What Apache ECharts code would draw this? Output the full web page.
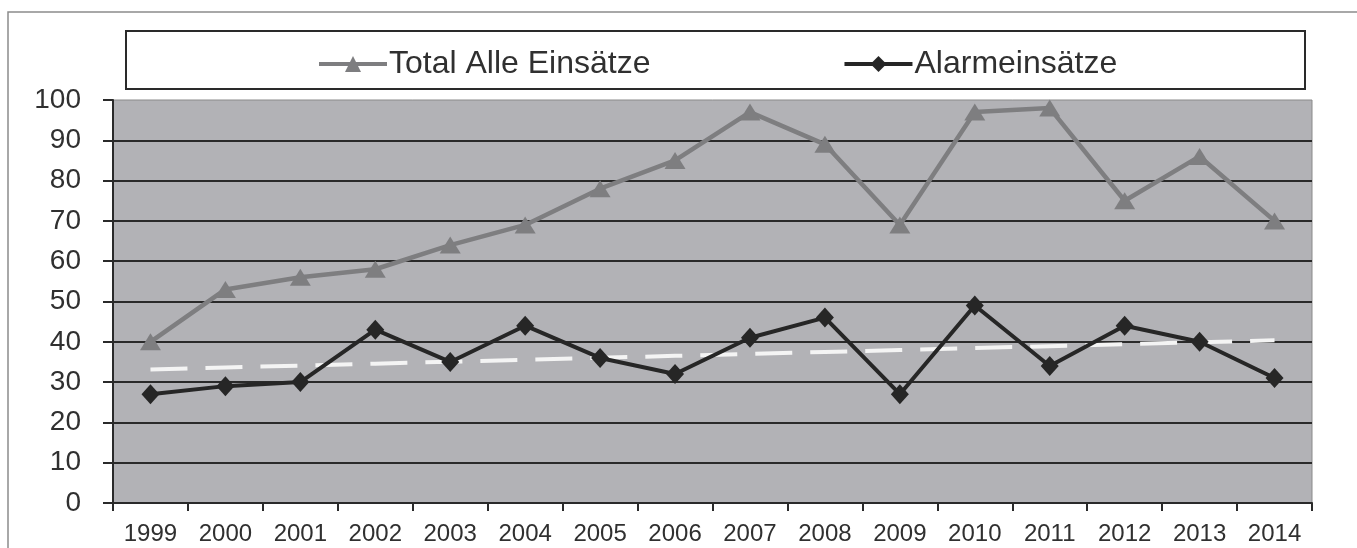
<!DOCTYPE html>
<html>
<head>
<meta charset="utf-8">
<title>Einsätze 1999–2014</title>
<script src="https://cdn.jsdelivr.net/npm/echarts@6/dist/echarts.min.js"></script>
<style>
  html, body { margin: 0; padding: 0; background: #ffffff; }
  #chart { width: 1357px; height: 548px; }
</style>
</head>
<body>
<div id="chart"></div>
<script>
// Years on the category axis
const years = ['1999', '2000', '2001', '2002', '2003', '2004', '2005', '2006',
               '2007', '2008', '2009', '2010', '2011', '2012', '2013', '2014'];

// All call-outs per year
const totalAlle = [40, 53, 56, 58, 64, 69, 78, 85, 97, 89, 69, 97, 98, 75, 86, 70];

// Alarm call-outs per year
const alarmEinsaetze = [27, 29, 30, 43, 35, 44, 36, 32, 41, 46, 27, 49, 34, 44, 40, 31];

// Value axis ticks
const yTicks = [0, 10, 20, 30, 40, 50, 60, 70, 80, 90, 100];

// Linear least-squares trend of the alarm call-outs
function linearTrend(values) {
  const n = values.length;
  let sx = 0, sy = 0, sxy = 0, sxx = 0;
  values.forEach((v, i) => { sx += i; sy += v; sxy += i * v; sxx += i * i; });
  const slope = (n * sxy - sx * sy) / (n * sxx - sx * sx);
  const intercept = (sy - slope * sx) / n;
  return values.map((_, i) => +(intercept + slope * i).toFixed(3));
}
const alarmTrend = linearTrend(alarmEinsaetze);

const FONT = '"Liberation Sans", Arial, sans-serif';

const chart = echarts.init(document.getElementById('chart'), null, { renderer: 'canvas' });

chart.setOption({
  animation: false,
  backgroundColor: '#ffffff',
  textStyle: { fontFamily: FONT },
  graphic: [
    // outer chart frame
    {
      type: 'polyline',
      shape: { points: [[8, 560], [8, 12], [1370, 12]] },
      style: { stroke: '#8c8c8c', lineWidth: 1.5, fill: null },
      silent: true
    },
    // legend box
    {
      type: 'rect',
      shape: { x: 126, y: 31, width: 1179, height: 58 },
      style: { stroke: '#2a2a2a', lineWidth: 2, fill: '#ffffff' },
      z: 0,
      silent: true
    }
  ],
  legend: {
    data: ['Total Alle Einsätze', 'Alarmeinsätze'],
    left: 312,
    top: 43,
    itemWidth: 68,
    itemHeight: 20,
    itemGap: 192,
    z: 5,
    lineStyle: { width: 4 },
    textStyle: { fontSize: 32, color: '#303030', fontFamily: FONT, padding: [0, 0, 0, -3] }
  },
  grid: {
    left: 113,
    top: 100,
    width: 1199,
    height: 403,
    show: true,
    backgroundColor: '#b2b2b6',
    borderColor: '#8a8a8a',
    borderWidth: 1,
    containLabel: false
  },
  xAxis: {
    type: 'category',
    data: years,
    boundaryGap: true,
    axisLine: { show: true, lineStyle: { color: '#2a2a2a', width: 2 } },
    axisTick: { show: true, length: 8, lineStyle: { color: '#2a2a2a', width: 2 } },
    axisLabel: { fontSize: 24, color: '#303030', margin: 19, fontFamily: FONT }
  },
  yAxis: {
    type: 'value',
    min: yTicks[0],
    max: yTicks[yTicks.length - 1],
    interval: 10,
    axisLine: { show: true, lineStyle: { color: '#2a2a2a', width: 2 } },
    axisTick: { show: true, length: 10, lineStyle: { color: '#2a2a2a', width: 2 } },
    axisLabel: { fontSize: 28, color: '#303030', margin: 32, fontFamily: FONT },
    splitLine: { show: true, showMaxLine: false, lineStyle: { color: '#2a2a2a', width: 2 } }
  },
  series: [
    {
      name: 'Total Alle Einsätze',
      type: 'line',
      data: totalAlle,
      symbol: 'triangle',
      symbolSize: [21, 17],
      lineStyle: { color: '#7e7e80', width: 4.5 },
      itemStyle: { color: '#7e7e80' },
      z: 3
    },
    {
      name: 'Alarmeinsätze',
      type: 'line',
      data: alarmEinsaetze,
      symbol: 'diamond',
      symbolSize: [18, 20],
      lineStyle: { color: '#262626', width: 4 },
      itemStyle: { color: '#262626' },
      z: 4
    },
    {
      name: 'Trend',
      type: 'line',
      data: alarmTrend,
      symbol: 'none',
      lineStyle: { color: '#f4f4f4', width: 4, type: [37, 18] },
      z: 2,
      silent: true
    }
  ]
});
</script>
</body>
</html>
